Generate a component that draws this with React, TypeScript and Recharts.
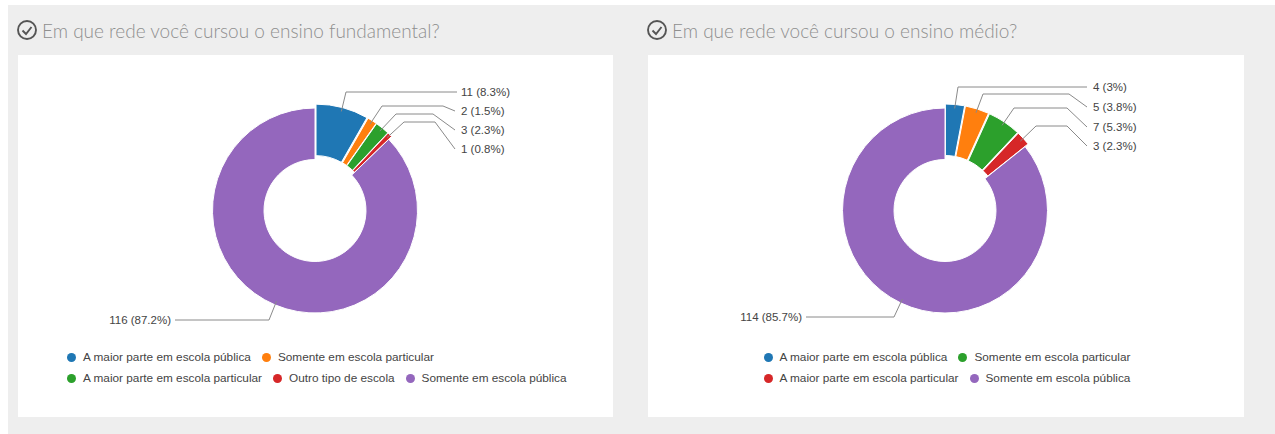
import { Legend, Pie, PieChart, Sector } from 'recharts';

const FUNDAMENTAL_NAMES = [
  'A maior parte em escola pública',
  'Somente em escola particular',
  'A maior parte em escola particular',
  'Outro tipo de escola',
  'Somente em escola pública',
];
const FUNDAMENTAL_VALUES = [11, 2, 3, 1, 116];
const FUNDAMENTAL_PERCENTS = ['8.3', '1.5', '2.3', '0.8', '87.2'];
const FUNDAMENTAL_ROWS = [[0, 1], [2, 3, 4]];

// the orange slice of this chart has no entry in the original legend
const MEDIO_NAMES = [
  'A maior parte em escola pública',
  '',
  'Somente em escola particular',
  'A maior parte em escola particular',
  'Somente em escola pública',
];
const MEDIO_VALUES = [4, 5, 7, 3, 114];
const MEDIO_PERCENTS = ['3', '3.8', '5.3', '2.3', '85.7'];
const MEDIO_ROWS = [[0, 2], [3, 4]];

const COLORS = ['#1f77b4', '#ff7f0e', '#2ca02c', '#d62728', '#9467bd'];
const OFFSETS = [4, 4, 4, 4, 0];

const FUNDAMENTAL_LEADERS = [
  { elbowX: 328, y: 37, bendX: 439, endX: 439, endY: 37, textX: 443 },
  { elbowX: 364, y: 51, bendX: 425, endX: 437, endY: 56, textX: 443 },
  { elbowX: 378, y: 59, bendX: 415, endX: 437, endY: 75, textX: 443 },
  { elbowX: 386, y: 67, bendX: 417, endX: 437, endY: 94, textX: 443 },
  { elbowX: 251, y: 265, bendX: 157, endX: 157, endY: 265, textX: 153 },
];
const MEDIO_LEADERS = [
  { elbowX: 310, y: 32, bendX: 439, endX: 439, endY: 32, textX: 445 },
  { elbowX: 335, y: 39, bendX: 421, endX: 439, endY: 52, textX: 445 },
  { elbowX: 366, y: 53, bendX: 419, endX: 439, endY: 72, textX: 445 },
  { elbowX: 388, y: 71, bendX: 419, endX: 439, endY: 91, textX: 445 },
  { elbowX: 246, y: 262, bendX: 158, endX: 158, endY: 262, textX: 154 },
];

const RAD = Math.PI / 180;
const CHART_FONT = '"Liberation Sans", Arial, sans-serif';

function OffsetSlice(props: any) {
  const offset = OFFSETS[props.index] ?? 0;
  const mid = (props.startAngle + props.endAngle) / 2;
  const dx = offset * Math.cos(mid * RAD);
  const dy = -offset * Math.sin(mid * RAD);
  return (
    <Sector
      {...props}
      cx={props.cx + dx}
      cy={props.cy + dy}
      stroke="#fff"
      strokeWidth={1}
    />
  );
}

function DonutPanel({ left, width, title, names, values, percents, rows, leaders, legendLeft }: any) {
  const data = names.map((name: string, i: number) => ({
    name,
    value: values[i],
    fill: COLORS[i],
  }));

  const renderLabel = (p: any) => {
    const l = leaders[p.index];
    const r = p.outerRadius + OFFSETS[p.index] - 4;
    const sx = p.cx + r * Math.cos(p.midAngle * RAD);
    const sy = p.cy - r * Math.sin(p.midAngle * RAD);
    const toLeft = l.textX < l.endX;
    return (
      <g key={p.index}>
        <polyline
          points={`${sx},${sy} ${l.elbowX},${l.y} ${l.bendX},${l.y} ${l.endX},${l.endY}`}
          fill="none"
          stroke="#8a8a8a"
          strokeWidth={1}
        />
        <text
          x={l.textX}
          y={l.endY}
          dy={4}
          textAnchor={toLeft ? 'end' : 'start'}
          fontSize={11.5}
          fontFamily={CHART_FONT}
          fill="#444"
        >
          {`${values[p.index]} (${percents[p.index]}%)`}
        </text>
      </g>
    );
  };

  const renderLegend = (legendProps: any) => {
    const items = legendProps.payload ?? [];
    const byName = (name: string) => items.find((it: any) => it.value === name);
    return (
      <div style={{ fontFamily: CHART_FONT }}>
        {rows.map((row: number[], r: number) => (
          <div key={r} style={{ display: 'flex', height: 21, alignItems: 'center', gap: 11 }}>
            {row.map((i) => (
              <div key={i} style={{ display: 'flex', alignItems: 'center', gap: 7, whiteSpace: 'nowrap' }}>
                <span
                  style={{
                    width: 9,
                    height: 9,
                    borderRadius: '50%',
                    background: byName(names[i])?.color ?? COLORS[i],
                  }}
                />
                <span style={{ fontSize: 11.8, color: '#444' }}>{names[i]}</span>
              </div>
            ))}
          </div>
        ))}
      </div>
    );
  };

  return (
    <>
      <svg width={22} height={22} style={{ position: 'absolute', left: left - 2, top: 19 }}>
        <circle cx={11} cy={11} r={9} fill="none" stroke="#555" strokeWidth={1.9} />
        <polyline points="6.5,11.5 10,15 15.5,8" fill="none" stroke="#555" strokeWidth={1.9} />
      </svg>
      <div
        style={{
          position: 'absolute',
          left: left + 24,
          top: 19,
          fontSize: 19,
          lineHeight: '24px',
          fontWeight: 300,
          color: '#8f8f8f',
          whiteSpace: 'nowrap',
        }}
      >
        {title}
      </div>
      <div style={{ position: 'absolute', left, top: 55, width, height: 362, background: '#fff' }}>
        <PieChart width={width} height={362} margin={{ top: 0, right: 0, bottom: 0, left: 0 }}>
          <Pie
            data={data}
            dataKey="value"
            nameKey="name"
            cx={297}
            cy={155.5}
            innerRadius={51}
            outerRadius={102.5}
            startAngle={90}
            endAngle={-270}
            shape={OffsetSlice}
            label={renderLabel}
            labelLine={false}
            isAnimationActive={false}
          />
          <Legend
            content={renderLegend}
            wrapperStyle={{ position: 'absolute', left: legendLeft, top: 291.5, width: 'auto', bottom: 'auto' }}
          />
        </PieChart>
      </div>
    </>
  );
}

export default function App() {
  return (
    <div
      style={{
        position: 'absolute',
        left: 8,
        top: 5,
        width: 1267,
        height: 429,
        background: '#eeeeee',
      }}
    >
      <div style={{ position: 'absolute', left: -8, top: -5, fontFamily: 'Lato, sans-serif' }}>
        <DonutPanel
          left={18}
          width={595}
          title="Em que rede você cursou o ensino fundamental?"
          names={FUNDAMENTAL_NAMES}
          values={FUNDAMENTAL_VALUES}
          percents={FUNDAMENTAL_PERCENTS}
          rows={FUNDAMENTAL_ROWS}
          leaders={FUNDAMENTAL_LEADERS}
          legendLeft={49}
        />
        <DonutPanel
          left={648}
          width={596}
          title="Em que rede você cursou o ensino médio?"
          names={MEDIO_NAMES}
          values={MEDIO_VALUES}
          percents={MEDIO_PERCENTS}
          rows={MEDIO_ROWS}
          leaders={MEDIO_LEADERS}
          legendLeft={115.5}
        />
      </div>
    </div>
  );
}
